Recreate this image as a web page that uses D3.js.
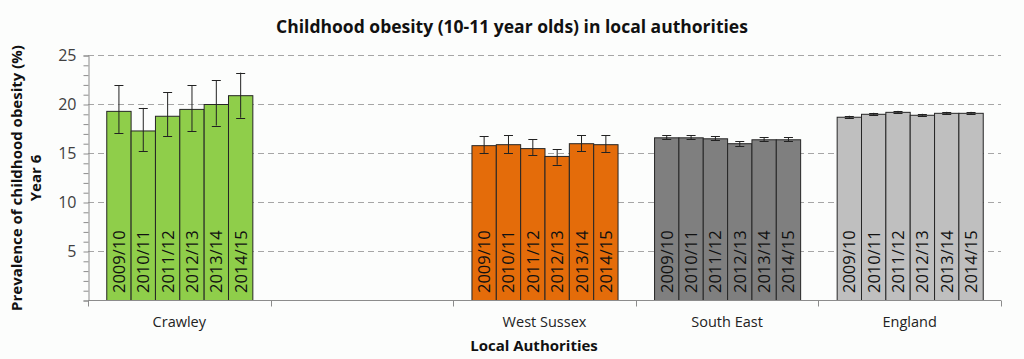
<!DOCTYPE html>
<html><head><meta charset="utf-8">
<script src="https://cdn.jsdelivr.net/npm/d3@7"></script>
<style>
html,body{margin:0;padding:0;background:#fcfdfc;}
text{font-family:"Liberation Sans Narrow","Open Sans","Noto Sans",sans-serif;}
</style></head>
<body><svg id="c" width="1024" height="359"></svg>
<script>
const categories = ["Crawley", "", "West Sussex", "South East", "England"];
const years = ["2009/10","2010/11","2011/12","2012/13","2013/14","2014/15"];
const crawley = [19.3, 17.3, 18.8, 19.5, 20.0, 20.9];
const crawleyLow = [17.0, 15.2, 16.7, 17.2, 17.8, 18.6];
const crawleyHigh = [21.9, 19.6, 21.2, 21.9, 22.4, 23.2];
const westSussex = [15.8, 15.9, 15.5, 14.7, 16.0, 15.9];
const westSussexLow = [15.0, 15.0, 14.8, 13.8, 15.2, 15.1];
const westSussexHigh = [16.7, 16.8, 16.4, 15.4, 16.8, 16.8];
const southEast = [16.6, 16.6, 16.5, 16.0, 16.4, 16.4];
const southEastLow = [16.4, 16.4, 16.3, 15.7, 16.2, 16.2];
const southEastHigh = [16.8, 16.8, 16.7, 16.2, 16.6, 16.6];
const england = [18.7, 19.0, 19.2, 18.9, 19.1, 19.1];
const englandLow = [18.6, 18.9, 19.1, 18.8, 19.0, 19.0];
const englandHigh = [18.8, 19.1, 19.3, 19.0, 19.2, 19.2];
const yTicks = [5, 10, 15, 20, 25];
const colors = {"Crawley":"#8fce4a","West Sussex":"#e46c0a","South East":"#7f7f7f","England":"#bfbfbf"};

const groups = [
  {cat:"Crawley", v:crawley, lo:crawleyLow, hi:crawleyHigh},
  {cat:"West Sussex", v:westSussex, lo:westSussexLow, hi:westSussexHigh},
  {cat:"South East", v:southEast, lo:southEastLow, hi:southEastHigh},
  {cat:"England", v:england, lo:englandLow, hi:englandHigh}
];

const svg = d3.select("#c");
const L = 88, R = 1001, T = 55, B = 300;
const x = d3.scaleBand().domain(categories.map((c,i)=>i)).range([L,R]).paddingInner(0).paddingOuter(0);
const x1 = d3.scaleBand().domain(years).range([0, x.bandwidth()]).paddingOuter(0.75).paddingInner(0);
const y = d3.scaleLinear().domain([0,25]).range([B,T]);

// gridlines
svg.append("g").selectAll("line").data(yTicks).join("line")
  .attr("x1",L).attr("x2",R).attr("y1",d=>y(d)+0.5).attr("y2",d=>y(d)+0.5)
  .attr("stroke","#a6a6a6").attr("stroke-width",1).attr("stroke-dasharray","6,4");

// y axis
const yAxis = d3.axisLeft(y).tickValues(d3.range(0,26,1)).tickSize(5).tickFormat(d=>yTicks.includes(d)?d:"");
const gy = svg.append("g").attr("transform",`translate(${L+0.5},0.5)`).call(yAxis);
gy.select(".domain").attr("stroke","#8c8c8c");
gy.selectAll(".tick line").attr("stroke","#8c8c8c");
gy.selectAll(".tick text").attr("font-size",16).attr("fill","#404040").attr("x",-12)
  .style("font-family","'Open Sans','Noto Sans',sans-serif");

// bars
groups.forEach(g=>{
  const ci = categories.indexOf(g.cat);
  const gg = svg.append("g").attr("transform",`translate(${x(ci)},0)`);
  const data = years.map((yr,i)=>({yr, v:g.v[i], lo:g.lo[i], hi:g.hi[i]}));
  gg.selectAll("rect").data(data).join("rect")
    .attr("x",d=>x1(d.yr)+0.5).attr("y",d=>y(d.v)+0.5)
    .attr("width",x1.bandwidth()).attr("height",d=>y(0)-y(d.v))
    .attr("fill",colors[g.cat]).attr("stroke","#262626").attr("stroke-width",1);
  gg.selectAll("text.yl").data(data).join("text").attr("class","yl")
    .attr("transform",d=>`translate(${x1(d.yr)+x1.bandwidth()/2+6.5},${y(0)-7}) rotate(-90)`)
    .attr("font-size",16.5).attr("fill","#111")
    .style("font-family","'Open Sans','Noto Sans',sans-serif")
    .text(d=>d.yr);
  const eb = gg.selectAll("g.eb").data(data).join("g").attr("class","eb")
    .attr("stroke","#222").attr("stroke-width",1);
  eb.append("line").attr("x1",d=>x1(d.yr)+x1.bandwidth()/2+0.5).attr("x2",d=>x1(d.yr)+x1.bandwidth()/2+0.5)
    .attr("y1",d=>y(d.lo)).attr("y2",d=>y(d.hi));
  eb.append("line").attr("x1",d=>x1(d.yr)+x1.bandwidth()/2-4).attr("x2",d=>x1(d.yr)+x1.bandwidth()/2+5)
    .attr("y1",d=>Math.round(y(d.lo))+0.5).attr("y2",d=>Math.round(y(d.lo))+0.5);
  eb.append("line").attr("x1",d=>x1(d.yr)+x1.bandwidth()/2-4).attr("x2",d=>x1(d.yr)+x1.bandwidth()/2+5)
    .attr("y1",d=>Math.round(y(d.hi))+0.5).attr("y2",d=>Math.round(y(d.hi))+0.5);
});

// x axis
const gx = svg.append("g").attr("transform",`translate(0,${B+0.5})`);
gx.append("line").attr("x1",L).attr("x2",R).attr("stroke","#8c8c8c");
gx.selectAll("line.tk").data(d3.range(categories.length+1)).join("line").attr("class","tk")
  .attr("x1",i=>Math.round(L+i*x.bandwidth())+0.5).attr("x2",i=>Math.round(L+i*x.bandwidth())+0.5)
  .attr("y1",0).attr("y2",6).attr("stroke","#8c8c8c");
gx.selectAll("text").data(categories).join("text")
  .attr("x",(d,i)=>x(i)+x.bandwidth()/2).attr("y",26).attr("text-anchor","middle")
  .attr("font-size",14.5).attr("fill","#222").text(d=>d);

// titles
svg.append("text").attr("x",512).attr("y",33).attr("text-anchor","middle")
  .attr("font-size",17.5).attr("font-weight","bold").attr("fill","#111")
  .text("Childhood obesity (10-11 year olds) in local authorities");
svg.append("text").attr("x",534).attr("y",351).attr("text-anchor","middle")
  .attr("font-size",15).attr("font-weight","bold").attr("fill","#111").text("Local Authorities");
const yt = svg.append("text").attr("transform","translate(0,178) rotate(-90)").attr("text-anchor","middle")
  .attr("font-size",15).attr("font-weight","bold").attr("fill","#111");
yt.append("tspan").attr("x",0).attr("y",22).text("Prevalence of childhood obesity (%)");
yt.append("tspan").attr("x",0).attr("y",41).text("Year 6");
</script></body></html>
